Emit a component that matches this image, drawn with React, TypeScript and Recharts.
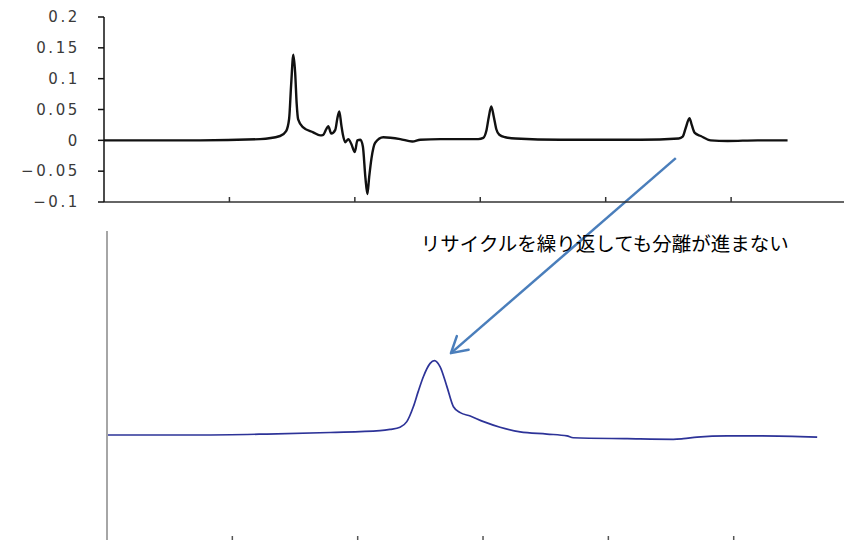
import { LineChart, Line, XAxis, YAxis, ReferenceLine, ReferenceDot } from 'recharts';

// Upper trace: derivative signal
const topTime = [0, 3.83, 6.22, 7.02, 7.26, 7.38, 7.46, 7.55, 7.62, 7.68, 7.74, 7.94, 8.34, 8.62, 8.74, 8.86, 8.94, 9.06, 9.22, 9.3, 9.38, 9.46, 9.52, 9.62, 9.74, 9.86, 10.0, 10.1, 10.22, 10.32, 10.42, 10.5, 10.57, 10.66, 10.81, 11.13, 11.81, 12.29, 12.61, 13.41, 14.92, 15.12, 15.24, 15.34, 15.44, 15.54, 15.64, 15.76, 16.0, 16.4, 18.2, 21.39, 22.91, 23.07, 23.19, 23.34, 23.43, 23.55, 23.79, 24.18, 24.86, 26.06, 27.25];
const topSignal = [0, 0, 0.002, 0.007, 0.015, 0.035, 0.09, 0.139, 0.11, 0.06, 0.034, 0.021, 0.013, 0.008, 0.009, 0.018, 0.023, 0.011, 0.017, 0.035, 0.047, 0.025, 0.01, -0.003, 0.002, -0.006, -0.019, 0.0, 0.001, -0.01, -0.06, -0.087, -0.06, -0.03, -0.004, 0.005, 0.002, -0.002, 0.001, 0.002, 0.002, 0.004, 0.015, 0.038, 0.055, 0.038, 0.018, 0.009, 0.005, 0.003, 0.001, 0.001, 0.003, 0.006, 0.02, 0.036, 0.025, 0.012, 0.007, 0.0, -0.001, 0.0, 0.0];
const topTicks = [-0.1, -0.05, 0, 0.05, 0.1, 0.15, 0.2];

// Lower trace: chromatogram after recycling
const bottomTime = [0, 3.71, 6.38, 8.9, 10.89, 11.29, 11.69, 11.96, 12.22, 12.41, 12.62, 12.89, 13.06, 13.29, 13.56, 13.82, 14.09, 14.49, 15.02, 15.68, 16.48, 17.55, 18.35, 18.6, 20.75, 22.59, 22.99, 23.54, 24.74, 26.06, 28.33];
const bottomSignal = [34.2, 34.2, 34.5, 35.0, 35.6, 36.0, 36.7, 38.5, 43.3, 48.1, 53.0, 57.3, 58.2, 56.2, 49.8, 43.3, 41.4, 40.3, 38.5, 36.7, 35.2, 34.5, 33.9, 33.3, 33.0, 32.8, 33.0, 33.5, 33.9, 33.9, 33.5];

const timeTicks = [5, 10, 15, 20, 25];

// annotation (in lower-chart data units)
const noteText = 'リサイクルを繰り返しても分離が進まない';
const notePos = { x: 12.52, y: 96.45 };
const arrowFrom = { x: 22.69, y: 123.5 };
const arrowTo = { x: 13.72, y: 60.6 };

const topData = topTime.map((t, i) => ({ t, v: topSignal[i] }));
const bottomData = bottomTime.map((t, i) => ({ t, v: bottomSignal[i] }));

function UpTick({ x, y, stroke }: any) {
  return <line x1={x} x2={x} y1={y} y2={y - 5} stroke={stroke} strokeWidth={1.5} />;
}

const fmtTop = (v: number) => (v < 0 ? '\u2212' + String(-v) : String(v));

export default function App() {
  return (
    <div style={{ position: 'absolute', left: 0, top: 0, width: 844, height: 540, overflow: 'hidden', background: '#fff' }}>
      <div style={{ position: 'absolute', left: 0, top: 0 }}>
        <LineChart width={844} height={551} data={bottomData} margin={{ top: 231, right: 0, bottom: 0, left: 0 }}>
          <defs>
            <marker id="openHead" viewBox="0 0 22 22" refX={18} refY={11} markerWidth={22} markerHeight={22} markerUnits="userSpaceOnUse" orient="auto" overflow="visible">
              <path d="M2.4,2 L18,11 L2.4,20" fill="none" stroke="#4a7ebb" strokeWidth={2.5} strokeLinecap="round" strokeLinejoin="round" />
            </marker>
          </defs>
          <XAxis
            dataKey="t"
            type="number"
            domain={[0, 29.4]}
            ticks={timeTicks}
            height={10}
            axisLine={false}
            tickLine={false}
            tickSize={0}
            tickMargin={0}
            tick={<UpTick stroke="#555" />}
            allowDataOverflow
          />
          <YAxis
            type="number"
            domain={[0, 100]}
            width={107}
            axisLine={{ stroke: '#a6a6a6', strokeWidth: 2 }}
            tick={false}
            tickLine={false}
            allowDataOverflow
          />
          <Line type="monotone" dataKey="v" stroke="#2d3398" strokeWidth={1.7} dot={false} isAnimationActive={false} />
          <ReferenceLine
            segment={[arrowFrom, arrowTo]}
            ifOverflow="visible"
            shape={(p: any) => (
              <line x1={p.x1} y1={p.y1} x2={p.x2} y2={p.y2} stroke="#4a7ebb" strokeWidth={2.5} markerEnd="url(#openHead)" />
            )}
          />
          <ReferenceDot
            x={notePos.x}
            y={notePos.y}
            ifOverflow="visible"
            shape={(p: any) => (
              <text x={p.cx} y={p.cy} textAnchor="start" dominantBaseline="central" fontSize={19.5} fill="#000" fontFamily="'Noto Sans CJK JP', sans-serif">
                {noteText}
              </text>
            )}
          />
        </LineChart>
      </div>
      <div style={{ position: 'absolute', left: 0, top: 0 }}>
        <LineChart width={844} height={212} data={topData} margin={{ top: 17, right: 0, bottom: 0, left: 0 }}>
          <XAxis
            dataKey="t"
            type="number"
            domain={[0, 29.5]}
            ticks={timeTicks}
            height={10}
            axisLine={{ stroke: '#333', strokeWidth: 1.5 }}
            tickLine={false}
            tickSize={0}
            tickMargin={0}
            tick={<UpTick stroke="#333" />}
            allowDataOverflow
          />
          <YAxis
            type="number"
            domain={[-0.1, 0.2]}
            ticks={topTicks}
            width={104}
            axisLine={{ stroke: '#111', strokeWidth: 1.5 }}
            tickLine={{ stroke: '#111', strokeWidth: 1.5 }}
            tickSize={6}
            tickMargin={18}
            tickFormatter={fmtTop}
            tick={{ fill: '#3a3a3a', fontSize: 15, fontFamily: "'DejaVu Sans', sans-serif", letterSpacing: 2.6 }}
            allowDataOverflow
          />
          <Line type="monotone" dataKey="v" stroke="#111" strokeWidth={2.4} dot={false} isAnimationActive={false} />
        </LineChart>
      </div>
    </div>
  );
}
